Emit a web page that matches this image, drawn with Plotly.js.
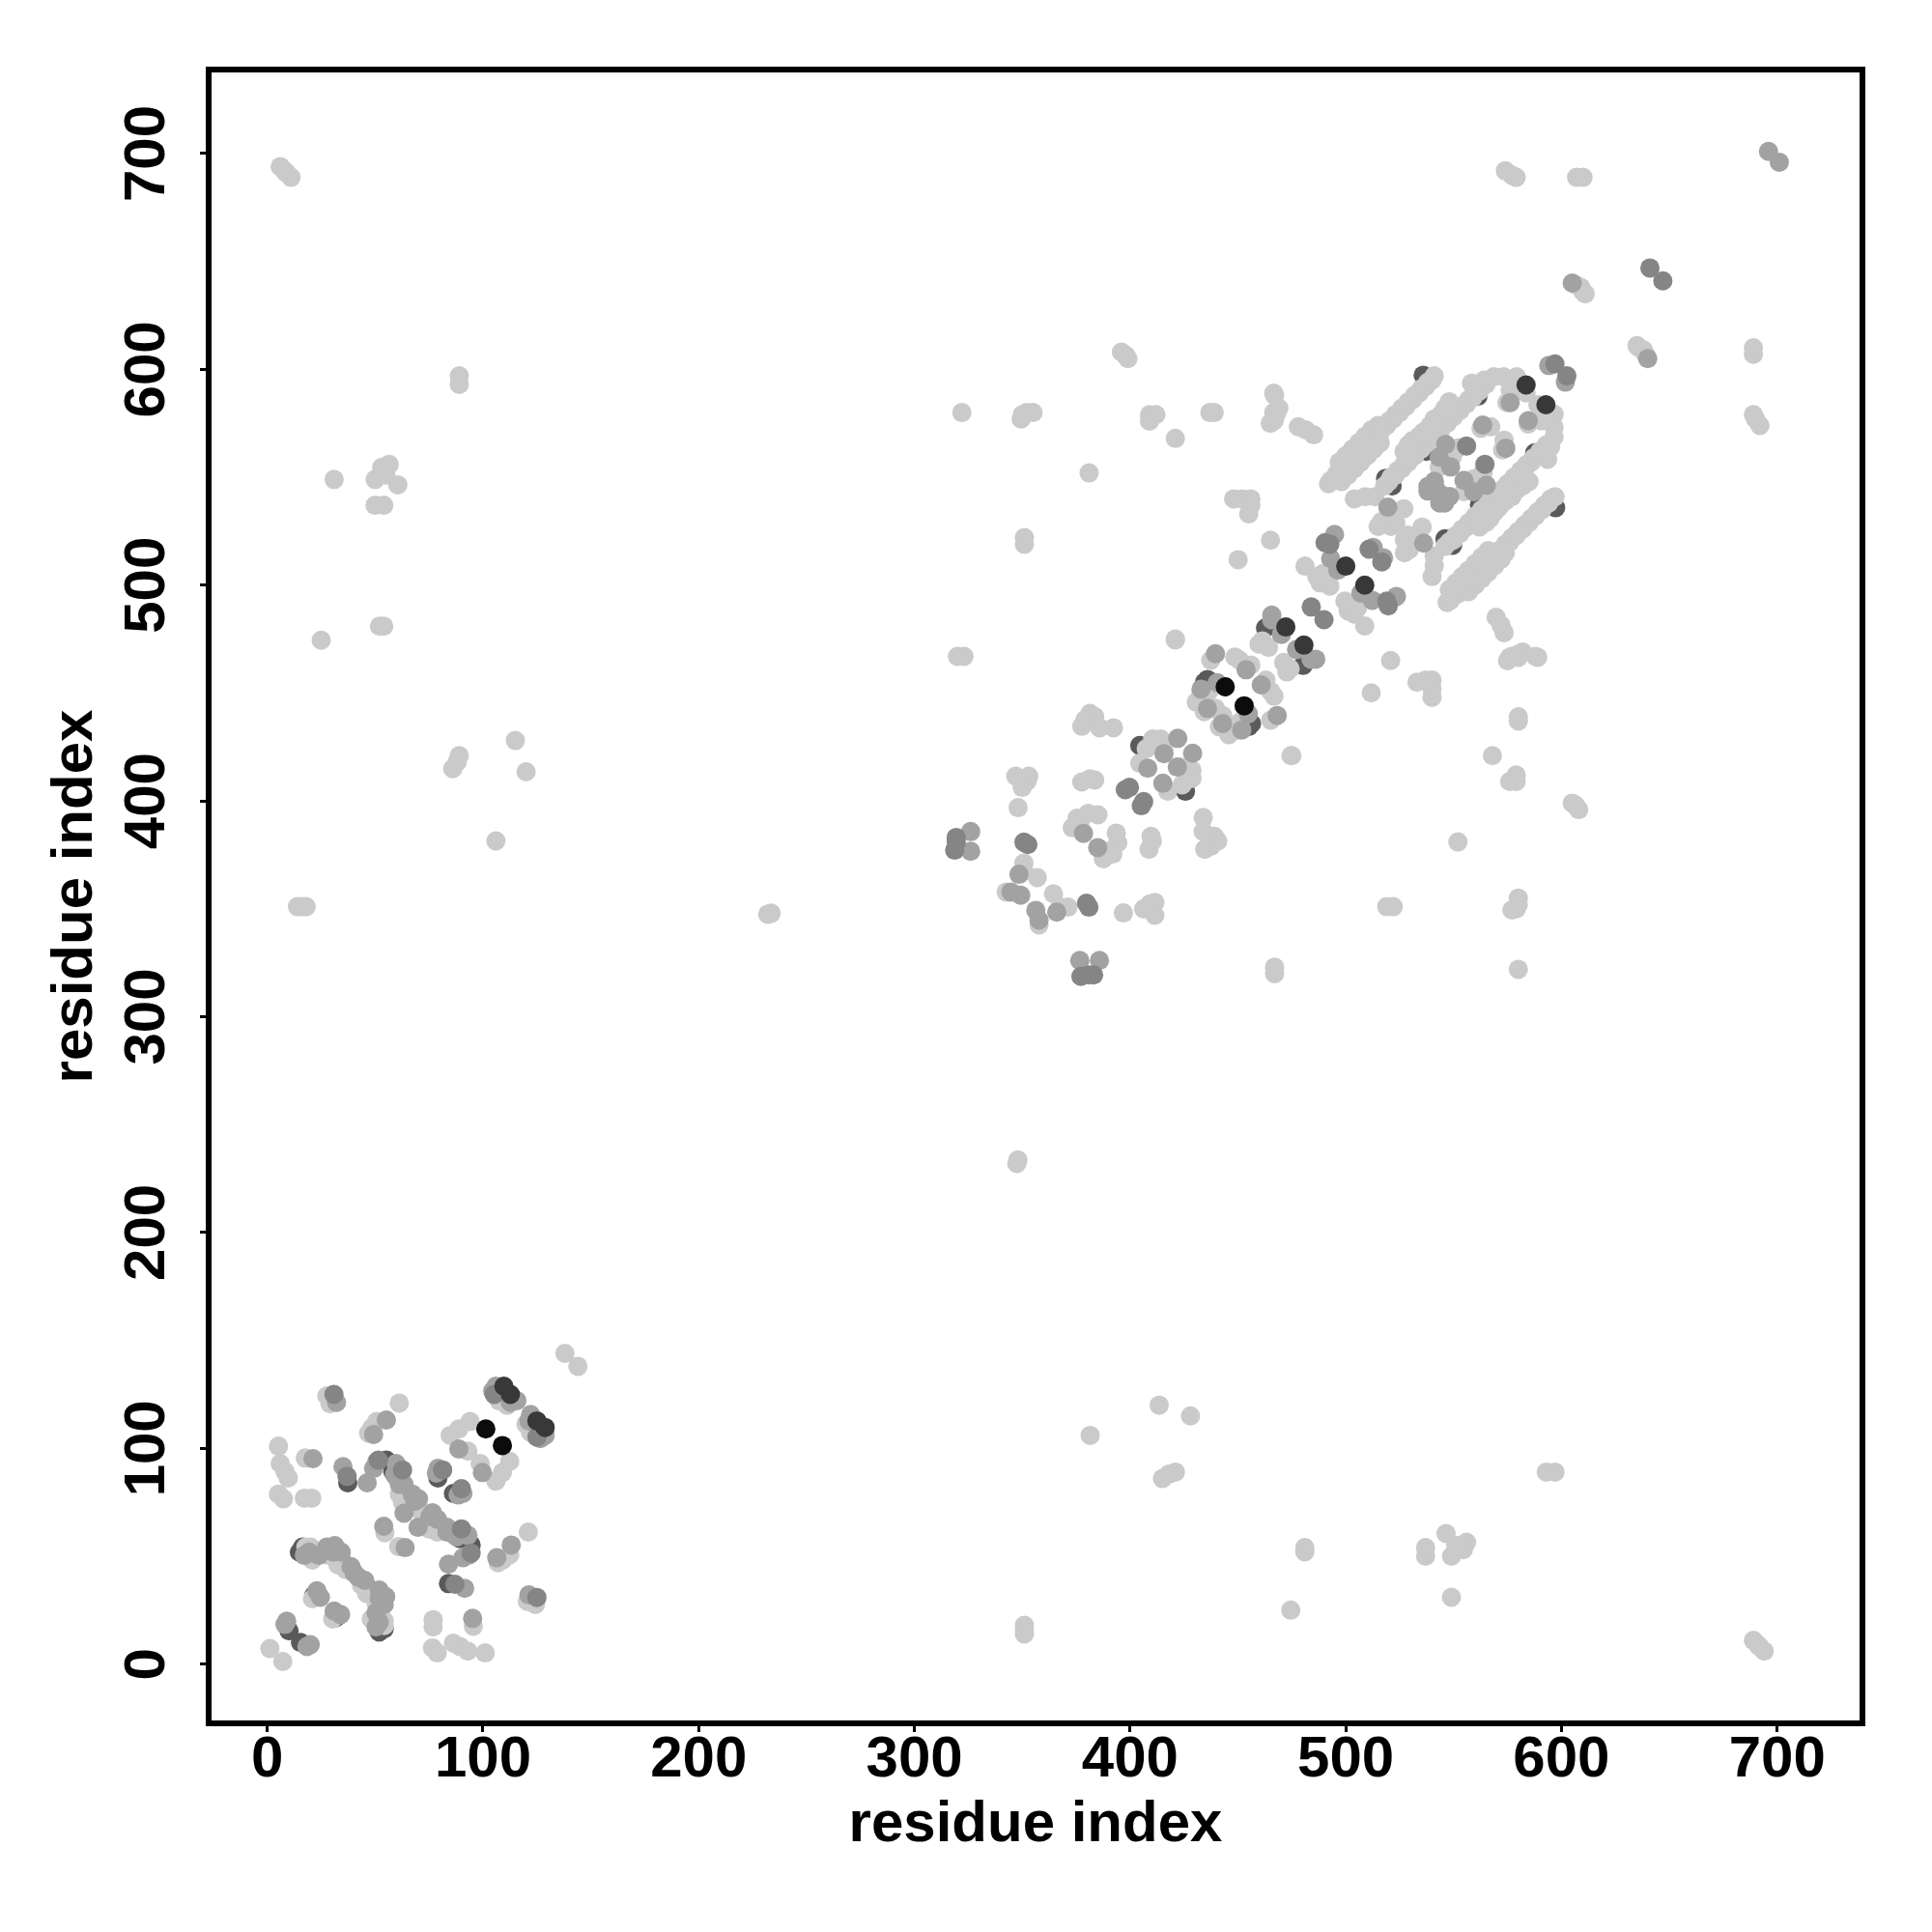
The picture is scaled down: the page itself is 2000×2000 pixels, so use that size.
<!DOCTYPE html>
<html><head><meta charset="utf-8">
<script src="https://cdn.plot.ly/plotly-3.0.1.min.js"></script>
<style>html,body{margin:0;padding:0;background:#fff}</style></head>
<body><div id="chart" style="width:2000px;height:2000px"></div>
<script>
// Residue contact pairs (i<j); a contact map is symmetric, each pair is drawn at (i,j) and (j,i).
const tickValues = [0,100,200,300,400,500,600,700];
const axisTitle = "residue index";

const shadowPairs = [[16.4,54.2],[14.9,51.9],[32.1,49],[35.1,46.7],[21.6,31.8],[10.1,15.4],[58.2,89.3],[79.1,86.3],[37.3,84],[55.2,94.5],[404.5,425.7],[462.8,480.2],[435.9,456.3],[434.5,455],[518.5,549.5],[520,547],[521.5,546],[537.4,562],[535,563.7],[561.3,587.6],[535.9,597.3],[500,551.8]];

const lightPairs = [[138,144],[27.6,124.3],[29.1,120.6],[61.2,121],[50.7,112.4],[48.5,109.4],[47,107],[107.5,122],[111.2,119.9],[109,123.6],[94,112.4],[88.8,109],[84.8,106],[93,98.7],[5.2,101],[6,93],[8.2,89.3],[9.7,86.3],[5.2,78.8],[7.5,76.6],[17.2,76.9],[20.6,76.9],[17.6,95.5],[54.5,60.9],[65,77.3],[62.7,75],[61.2,78.8],[64.2,74.3],[71,71.3],[20.1,54.2],[17.9,54.2],[21.6,51.2],[20.9,48.2],[28.4,50.4],[32.8,46],[36.6,43.7],[20.9,30.3],[1.2,7.2],
[381.4,440.6],[383.6,439.1],[379.1,437.6],[377.6,434.6],[385.9,433.9],[392.3,433.9],[410.5,428.7],[414.2,428.7],[407.5,424.2],[415.7,423.4],[404.5,417.5],[381.4,410.3],[377.6,408.8],[383.6,409.7],[347,411.5],[353,411.5],[352.3,409.2],[350,406.3],[348.1,396.9],[380.6,394.3],[385.1,393.6],[376.9,390.6],[373.2,387.6],[375.4,392],[350.8,371.2],[350.8,367.5],[357,364.5],[342.6,357.8],
[450.1,511.8],[465.1,520.8],[421,474.6],[481.1,508.8],[492.6,499.6],[488.1,501.1],[489.6,505.5],[486.6,504],[491.1,502.6],[464.2,471.2],[459.8,472.7],[461.3,474.2],[437.4,465.2],[436.6,451],[432.9,445.8],[430.7,445.8],[432.9,450.3],[439.6,442.9],[434.4,441.4],[450.8,465.2],[448.6,466.7],[456,463],
[478,573.4],[481.4,572],[485.1,569.7],[526.9,535.4],[521,527.2],[516.5,529.4],[515,527.2],[523.2,528.7],[549.3,559.3],[552.3,563.7],[546.3,559.3],[543.3,554.8],[562.7,572.7],[567.2,573.4],[579.2,596.6],[576.2,590.6],[583.6,589.1],[574.7,584.6],
[89,597],[89,593],[6,694],[9,691],[11,689],[8,692],[31,549],[56.5,556],[53,554.5],[50,549],[60.5,546.5],[55,551],[50,537],[54,537],[54,481],[52,481],[25,474.5],[86,415],[88,418],[89,421],[115,428],[120,413.5],[106,381.5],[14,351],[16,351],[18,351],[233.6,348],[232,347.5],[322,580],[320,467],[323,467],[349.5,577],[352,580],[355,580],[350,579],[351,522],[351,519],[396,608],[399,605],[398,606.5],[409,579],[412,579],[409,576],[421,568],[439,580],[437,580],[467,588],[465,575],[467,577],[469,582],[468,580],[448,540],[452,540],[456,537],[455,533],[456,540],[381,552],[475,421],[607,639],[609,638],[610,636],[611,635],[574,692],[577,690],[579,689],[607,689],[610,689],[466.6,576],[466.6,580],[466.6,589],
// far band
[492,547],[493,548.5],[495,550],[496,552],[498,553],[499,555],[501,556],[502,558],[504,559],[505,561],[507,562],[508,564],[510,565],[511,567],[513,568],[514,570],[516,571],[517,573],[519,574],[520,576],[522,577],[523,579],[525,580],[526,582],[528,583],[529,585],[531,586],[532,588],[534,589],[535,591],[537,592],[538,594],[540,595],[541,597],
[497,557],[500,560],[503,563],[506,566],[509,569],[512,572],[515,574],[498,548],[501,551],[504,554],[507,557],[510,560],[513,563],[516,566],
// near band
[504,540],[509,541],[513.5,541],[518,546],[520,548],[521,550],[523,551],[524,553],[526,554],[527,556],[529,557],[530,559],[532,560],[533,562],[535,563],[536,565],[538,566],[539,568],[541,569],[542,571],[544,572],[545,574],[547,575],[548,577],[550,578],[551,580],[553,581],[554,583],[556,584],[557,586],[559,587],[560,589],[562,590],[563,592],[565,593],
[527,562],[529,565],[531,567],[534,569],[536,571],[539,574],[541,577],[544,579],[546,582],[548,585],[558.3,593.6],[561.3,590.6],[564.2,595],[568.7,596.6],[573.2,596.6]];

const midPairs = [[32.1,121.3],[55.2,113.1],[49.3,106.4],[106,128.8],[104.5,126.6],[115.7,122.1],[112.7,121.3],[109,126.6],[88.8,99.7],[78.4,88.5],[79.1,90.7],[35.1,91.5],[46.3,84],[21.2,95.2],[54,63.9],[49.3,90.7],[50.7,93.7],[59.7,93],[59.7,87],[59,87.8],[61.2,83.3],[63.4,83.3],[68.7,76.6],[67.2,78.8],[70.1,76.6],[68.4,75.4],[63.4,69.9],[17.2,50.4],[19.4,51.9],[23.9,50.4],[27.6,54.2],[30.6,51.9],[31.3,54.9],[34.3,51.9],[38.8,45.2],[40.3,42.2],[24.6,31],[23,34],[9,19.9],[8.2,18.4],
[422.1,429],[415.7,421.9],[408.2,415.2],[378.4,385],[326.1,385.8],[326.1,376.7],[348.5,366],[349.3,356.3],[344.8,357.8],
[494.8,523.5],[493,512.3],[496.3,507],[465.7,483.9],[465.7,486.1],[470.2,477.2],[439.6,468.2],[435.9,442.9],[440.4,454.8],[453.8,460.8],[432.9,451.8],
[546.3,565.2],[548.6,554.8],[541.1,548.1],[538.1,545.8],[538.1,543.6],[541.9,544.3],[563.5,574.2],[576.2,584.6],[594.1,601.8],[519.5,536.1],[512.7,517.5],[543.3,559.3],[605,640],[696,701]];

const darkPairs = [[30.9,125],[81.3,90],[62.7,90],[37,87],[51.5,94.5],[105.2,125],[399.7,406.3],[397.8,405.2],[350.8,380.9],[352.6,379.8],[318.7,377.2],[319.4,380.9],[319.4,383.1],[484,489.9],[490.4,519.7],[492.6,519],[556,564.5],[597,602.5],[510.8,516.7],[641,647]];

const inkPairs = [[109.7,128.8],[112.7,125],[472.2,480.6],[500,508.8],[583.6,592.8]];

const blackPairs = [[101.3,109],[444.1,452.9]];

const layers = [
  {name:"shadow", pairs:shadowPairs, grey:"#5a5a5a"},
  {name:"light",  pairs:lightPairs,  grey:"#cacaca"},
  {name:"mid",    pairs:midPairs,    grey:"#a2a2a2"},
  {name:"dark",   pairs:darkPairs,   grey:"#858585"},
  {name:"ink",    pairs:inkPairs,    grey:"#383838"},
  {name:"black",  pairs:blackPairs,  grey:"#0c0c0c"}
];

const traces = layers.map(l => ({
  type:"scatter", mode:"markers", name:l.name, showlegend:false, hoverinfo:"skip",
  x:l.pairs.map(p=>p[0]).concat(l.pairs.map(p=>p[1])),
  y:l.pairs.map(p=>p[1]).concat(l.pairs.map(p=>p[0])),
  marker:{size:20, color:l.grey, line:{width:0}}
}));

const font = "Liberation Sans, Arial, sans-serif";
const axisBase = {
  tickmode:"array", tickvals:tickValues, ticktext:tickValues.map(String),
  showgrid:false, zeroline:false, showline:true, mirror:true, linecolor:"#000", linewidth:6,
  ticks:"outside", ticklen:6, tickwidth:3, tickcolor:"#000",
  tickfont:{family:font, size:60, color:"#000", weight:"bold"}
};
const layout = {
  width:2000, height:2000, paper_bgcolor:"#fff", plot_bgcolor:"#fff", showlegend:false,
  margin:{l:219, r:75, t:75, b:219, pad:0},
  xaxis:Object.assign({}, axisBase, {range:[-25.84,738.2], tickangle:0, ticklabelstandoff:-26,
    title:{text:"<b>"+axisTitle+"</b>", font:{family:font,size:60,color:"#000"}, standoff:13}}),
  yaxis:Object.assign({}, axisBase, {range:[-26.1,737.6], tickangle:-90, ticklabelstandoff:13, ticklabelshift:9,
    title:{text:"<b>"+axisTitle+"</b>", font:{family:font,size:60,color:"#000"}, standoff:3}})
};
Plotly.newPlot("chart", traces, layout, {staticPlot:true, displayModeBar:false});
</script></body></html>
